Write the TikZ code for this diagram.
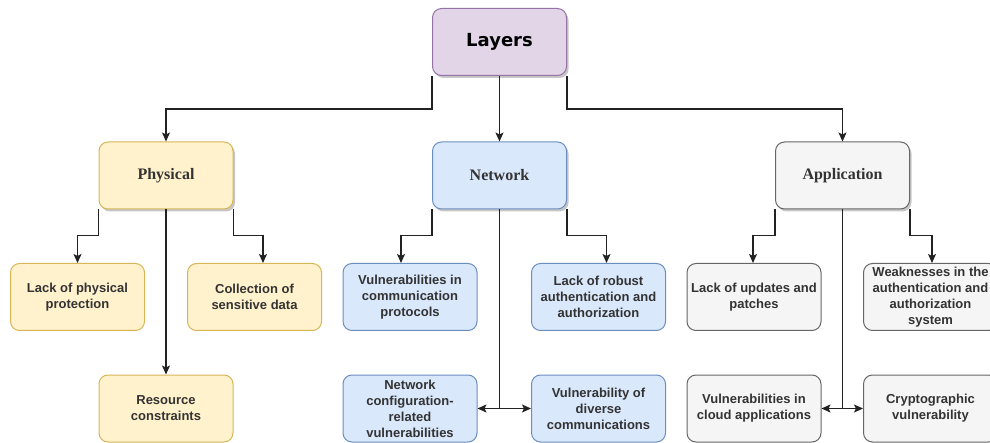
\documentclass[tikz,border=0pt]{standalone}
\usepackage{fontspec}
\setmainfont{Liberation Sans}
\newfontfamily\rootfont{DejaVu Sans}
\newfontfamily\layerfont{Liberation Serif}
\usetikzlibrary{arrows.meta,shadows}

\definecolor{rootfill}{HTML}{E1D5E7}
\definecolor{rootline}{HTML}{9673A6}
\definecolor{physfill}{HTML}{FFF2CC}
\definecolor{physline}{HTML}{D6B656}
\definecolor{netfill}{HTML}{DAE8FC}
\definecolor{netline}{HTML}{6C8EBF}
\definecolor{appfill}{HTML}{F5F5F5}
\definecolor{appline}{HTML}{666666}
\definecolor{txt}{HTML}{333333}
\definecolor{wire}{HTML}{222222}

\begin{document}
\begin{tikzpicture}[x=1pt,y=-1pt,
  box/.style={rounded corners=9pt, line width=1pt, minimum width=134pt,
    minimum height=67pt, align=center, inner sep=2pt, text=txt},
  shade/.style={drop shadow={shadow xshift=2pt, shadow yshift=-2.5pt,
    fill=black, opacity=0.22}},
  rootbox/.style={box, shade, fill=rootfill, draw=rootline, text=black,
    font=\rootfont\bfseries\fontsize{18}{22}\selectfont},
  layerbox/.style={box, shade, font=\layerfont\bfseries\fontsize{16}{19}\selectfont},
  leaf/.style={box, font=\bfseries\fontsize{13}{16}\selectfont},
  phys/.style={fill=physfill, draw=physline},
  net/.style={fill=netfill, draw=netline},
  app/.style={fill=appfill, draw=appline},
  link/.style={draw=wire, line width=1.2pt,
    -{Stealth[length=9pt, width=8pt, inset=2pt]}},
  wirestyle/.style={draw=wire, line width=1.2pt}
]
\useasboundingbox (0,0) rectangle (990,443);

% root and the three layers
\node[rootbox] (L) at (499.5,42) {Layers};
\node[layerbox, phys] (P) at (166,175.5) {Physical};
\node[layerbox, net]  (N) at (499.5,175.5) {Network};
\node[layerbox, app]  (A) at (842.5,175.5) {Application};

% physical layer issues
\node[leaf, phys] (LPP) at (77.5,297) {Lack of physical\\protection};
\node[leaf, phys] (CSD) at (254.5,297) {Collection of\\sensitive data};
\node[leaf, phys] (RC)  at (166,408.5) {Resource\\constraints};

% network layer issues
\node[leaf, net] (VCP) at (410,297) {Vulnerabilities in\\communication\\protocols};
\node[leaf, net] (LRA) at (598.5,297) {Lack of robust\\authentication and\\authorization};
\node[leaf, net] (NCR) at (410,408.5) {Network\\configuration-\\related\\vulnerabilities};
\node[leaf, net] (VDC) at (598.5,408.5) {Vulnerability of\\diverse\\communications};

% application layer issues
\node[leaf, app] (LUP) at (754,297) {Lack of updates and\\patches};
\node[leaf, app] (WAA) at (930.5,297) {Weaknesses in the\\authentication and\\authorization\\system};
\node[leaf, app] (VCA) at (754,408.5) {Vulnerabilities in\\cloud applications};
\node[leaf, app] (CV)  at (930.5,408.5) {Cryptographic\\vulnerability};

% root to layers
\draw[link] (L.south west) -- ++(0,33) -| (P.north);
\draw[link] (L.south) -- (N.north);
\draw[link] (L.south east) -- ++(0,33) -| (A.north);

% physical branches
\draw[link] (P.south west) -- ++(0,26) -| (LPP.north);
\draw[link] (P.south east) -- ++(0,26) -| ([xshift=8.5pt]CSD.north);
\draw[link] (P.south) -- (RC.north);

% network branches
\draw[link] (N.south west) -- ++(0,26) -| ([xshift=-9pt]VCP.north);
\draw[link] (N.south east) -- ++(0,26) -| ([xshift=8pt]LRA.north);
\coordinate (nj) at (N.south |- NCR.east);
\draw[wirestyle] (N.south) -- (nj);
\draw[link] (nj) -- (NCR.east);
\draw[link] (nj) -- (VDC.west);

% application branches
\draw[link] (A.south west) -- ++(0,26) -| ([xshift=-1pt]LUP.north);
\draw[link] (A.south east) -- ++(0,26) -| ([xshift=1.5pt]WAA.north);
\coordinate (aj) at (A.south |- VCA.east);
\draw[wirestyle] (A.south) -- (aj);
\draw[link] (aj) -- (VCA.east);
\draw[link] (aj) -- (CV.west);
\end{tikzpicture}
\end{document}
